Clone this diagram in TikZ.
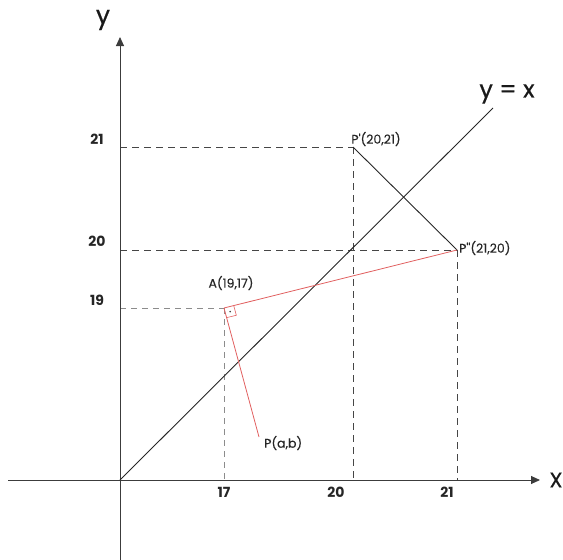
\documentclass[tikz,border=0pt]{standalone}
\usepackage{fontspec}
\setmainfont{Poppins}
\newfontfamily\medfont[FakeBold=0.6]{Poppins}
\newfontfamily\lblfont[FakeBold=0.3]{Poppins}
\usetikzlibrary{calc,arrows.meta}
\definecolor{axisgray}{RGB}{60,60,60}
\definecolor{dashdark}{RGB}{70,70,70}
\definecolor{dashlight}{RGB}{140,140,140}
\definecolor{redline}{RGB}{225,95,95}
\tikzset{
  axis/.style={draw=axisgray, line width=0.9pt, -{Triangle[length=9pt,width=8pt]}},
  axisplain/.style={draw=axisgray, line width=0.9pt},
  darkdash/.style={draw=dashdark, line width=0.9pt, dash pattern=on 7pt off 5pt},
  lightdash/.style={draw=dashlight, line width=0.7pt, dash pattern=on 6pt off 5pt},
  blackline/.style={draw=black!85, line width=0.9pt},
  redl/.style={draw=redline, line width=0.8pt},
  tick/.style={font=\fontsize{14}{16}\selectfont\bfseries, text=black!85, inner sep=0pt},
  ptlabel/.style={font=\lblfont\fontsize{12.5}{14}\selectfont, text=black!85, inner sep=0pt},
  axlabel/.style={font=\medfont\fontsize{25}{28}\selectfont, text=black!90, inner sep=0pt}
}
\begin{document}
\begin{tikzpicture}[x=1pt,y=-1pt]
\useasboundingbox (0,0) rectangle (563,560);
% key points
\coordinate (O) at (120,480);
\coordinate (Ybot) at (120,560);
\coordinate (Ytop) at (120,37);
\coordinate (Xleft) at (8,480);
\coordinate (Xright) at (540,480);
\coordinate (P1) at (353,147);
\coordinate (P2) at (457,250);
\coordinate (A) at (224,308);
\coordinate (Pab) at (259,437);
\coordinate (Lend) at (493,108);
\coordinate (Y21) at (120,147);
\coordinate (Y20) at (120,250);
\coordinate (Y19) at (120,308);
\coordinate (X17) at (224,480);
\coordinate (X20) at (353,480);
\coordinate (X21) at (457,480);
% dashed guides
\draw[darkdash] (Y21) -- (P1);
\draw[darkdash] (Y20) -- (P2);
\draw[lightdash] (Y19) -- (A);
\draw[darkdash] (P1) -- (X20);
\draw[darkdash] (P2) -- (X21);
\draw[lightdash] (A) -- (X17);
% axes
\draw[axisplain] (Ybot) -- (O);
\draw[axis] (O) -- (Ytop);
\draw[axis] (Xleft) -- (Xright);
% y = x
\draw[blackline] (O) -- (Lend);
% P' -- P''
\draw[blackline] (P1) -- (P2);
% red lines
\draw[redl] (A) -- (P2);
\draw[redl] (A) -- (Pab);
% right angle mark
\coordinate (ra1) at ($(A)!10pt!(P2)$);
\coordinate (ra2) at ($(A)!10pt!(Pab)$);
\coordinate (rac) at ($(ra1)+(ra2)-(A)$);
\draw[redl, line width=0.6pt] (ra1) -- (rac) -- (ra2);
\fill[black!80] ($(A)!0.5!(rac)$) circle (0.9pt);
% labels
\node[axlabel] (ylab) at (103,20) {y};
\node[axlabel, font=\medfont\fontsize{21}{24}\selectfont] (xlab) at (556,480) {X};
\node[axlabel, font=\medfont\fontsize{24}{26}\selectfont] (yxlab) at (507,94) {y = x};
\node[tick] (t21) at (97,139) {21};
\node[tick] (t20) at (97,241) {20};
\node[tick] (t19) at (97,300) {19};
\node[tick] (t17) at (224,492) {17};
\node[tick] (tx20) at (336,492) {20};
\node[tick] (tx21) at (447,492) {21};
\node[ptlabel] (lp1) at (376,139) {P'(20,21)};
\node[ptlabel, anchor=west] (lp2) at (459,248) {P''(21,20)};
\node[ptlabel] (la) at (231,283) {A(19,17)};
\node[ptlabel, anchor=west] (lp) at (264,443) {P(a,b)};
\end{tikzpicture}
\end{document}
